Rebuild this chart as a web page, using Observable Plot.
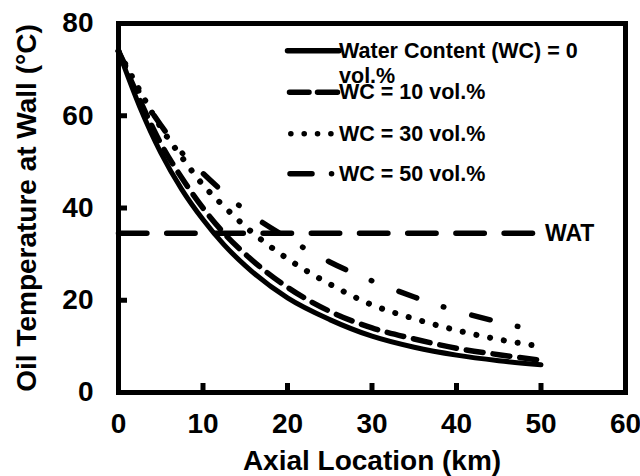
<!DOCTYPE html>
<html>
<head>
<meta charset="utf-8">
<script src="https://cdn.jsdelivr.net/npm/d3@7"></script>
<script src="https://cdn.jsdelivr.net/npm/@observablehq/plot@0.6"></script>
<style>
  html, body { margin: 0; padding: 0; background: #fff; }
  #chart { width: 640px; height: 476px; }
</style>
</head>
<body>
<div id="chart"></div>
<script>
// ---- data ----
const xKm  = [0, 2.5, 5, 7.5, 10, 12.5, 15, 20, 25, 30, 35, 40, 45, 50];
const wc0  = [74, 62, 52, 44, 37.5, 32, 27.5, 20.5, 15.8, 12.2, 9.8, 8.1, 6.9, 6.0];
const wc10 = [74, 63.5, 54, 46.5, 40, 34.5, 30, 22.8, 17.6, 14.0, 11.6, 9.6, 8.2, 7.0];
const wc30 = [74, 65.5, 57.5, 51, 45, 40.3, 36, 29, 23.5, 19, 16, 13.5, 11.5, 10];
const wc50 = [74, 65, 58, 52, 47.5, 43.3, 39.5, 33.5, 28.3, 24.2, 20.7, 17.7, 15.3, 13.2];
const watTemp = 34.5;
const watRange = [0, 50];
const watLabel = "WAT";
const legendText = ["Water Content (WC) = 0", "vol.%", "WC = 10 vol.%", "WC = 30 vol.%", "WC = 50 vol.%"];
const xTicks = [0, 10, 20, 30, 40, 50, 60];
const yTicks = [0, 20, 40, 60, 80];
const xInnerTicks = [10, 20, 30, 40, 50];
const yInnerTicks = [20, 40, 60];
const xTitle = "Axial Location (km)";
const yTitle = "Oil Temperature at Wall (°C)";

// ---- build tables ----
const mk = (vals) => xKm.map((x, i) => ({x, y: vals[i]}));
const s0 = mk(wc0), s10 = mk(wc10), s30 = mk(wc30), s50 = mk(wc50);

// legend layout (data coordinates inside the frame)
const legX1 = 20, legX2 = 26.1;
const legRowY = [74.1, 68.7, 65.1, 56.1, 47.4];
const legendRows = legendText.map((t, i) => ({t, y: legRowY[i]}));

const font = "'Liberation Sans', Arial, sans-serif";
const W = 640, H = 476, mL = 118, mR = 15, mT = 23, mB = 84;
const innerH = H - mT - mB, innerW = W - mL - mR;

const chart = Plot.plot({
  width: W, height: H,
  marginLeft: mL, marginRight: mR, marginTop: mT, marginBottom: mB,
  style: {fontFamily: font, background: "#fff", color: "#000"},
  x: {domain: [0, 60], ticks: xTicks},
  y: {domain: [0, 80], ticks: yTicks},
  marks: [
    // WAT line
    Plot.line(watRange.map(x => ({x, y: watTemp})), {x: "x", y: "y", stroke: "#000", strokeWidth: 5.5, strokeDasharray: "28.4,19.8"}),
    Plot.text([watLabel], {x: watRange[1], y: watTemp, dx: 4, text: d => d, textAnchor: "start", lineAnchor: "middle", fontSize: 23, fontWeight: "bold", fill: "#000"}),
    // series
    Plot.line(s50, {x: "x", y: "y", curve: "monotone-x", stroke: "#000", strokeWidth: 5.5, strokeLinecap: "round", strokeDasharray: "19,28,0.5,29.1", strokeDashoffset: 3}),
    Plot.line(s30, {x: "x", y: "y", curve: "monotone-x", stroke: "#000", strokeWidth: 6, strokeLinecap: "round", strokeDasharray: "0.1,13.9"}),
    Plot.line(s10, {x: "x", y: "y", curve: "monotone-x", stroke: "#000", strokeWidth: 5.5, strokeDasharray: "17,10"}),
    Plot.line(s0, {x: "x", y: "y", curve: "monotone-x", stroke: "#000", strokeWidth: 5}),
    // legend samples
    Plot.line([legX1, legX2].map(x => ({x, y: legRowY[0]})), {x: "x", y: "y", stroke: "#000", strokeWidth: 5.5, strokeLinecap: "round"}),
    Plot.line([legX1, legX2].map(x => ({x, y: legRowY[2]})), {x: "x", y: "y", stroke: "#000", strokeWidth: 5.5, strokeLinecap: "round", strokeDasharray: "19.5,8.5,20", strokeDashoffset: -2}),
    Plot.line([legX1, legX2].map(x => ({x, y: legRowY[3]})), {x: "x", y: "y", stroke: "#000", strokeWidth: 5.5, strokeLinecap: "round", strokeDasharray: "0.1,13.25", strokeDashoffset: -3.3}),
    Plot.line([legX1, legX2].map(x => ({x, y: legRowY[4]})), {x: "x", y: "y", stroke: "#000", strokeWidth: 5.5, strokeLinecap: "round", strokeDasharray: "22,19.5,0.1,40", strokeDashoffset: -2.5}),
    Plot.text(legendRows, {x: legX2, y: "y", text: "t", dx: 0, textAnchor: "start", lineAnchor: "middle", fontSize: 21.5, fontWeight: "bold", fill: "#000"}),
    // inner ticks
    Plot.tickX(xInnerTicks, {x: d => d, stroke: "#000", strokeWidth: 5, insetTop: innerH - 9}),
    Plot.tickY(yInnerTicks, {y: d => d, stroke: "#000", strokeWidth: 5, insetRight: innerW - 9}),
    // axes (labels only)
    Plot.axisX({ticks: xTicks, tickSize: 0, tickPadding: 21, fontSize: 28, fontWeight: "bold", label: null, fill: "#000"}),
    Plot.axisY({ticks: yTicks, tickSize: 0, tickPadding: 25, fontSize: 28, fontWeight: "bold", label: null, fill: "#000"}),
    // titles
    Plot.text([xTitle], {frameAnchor: "bottom", dy: 69, text: d => d, fontSize: 28, fontWeight: "bold", textAnchor: "middle", lineAnchor: "middle", fill: "#000"}),
    Plot.text([yTitle], {frameAnchor: "left", dx: -91, rotate: -90, text: d => d, fontSize: 28, fontWeight: "bold", textAnchor: "middle", lineAnchor: "middle", fill: "#000"}),
    // frame
    Plot.frame({stroke: "#000", strokeWidth: 5})
  ]
});
document.getElementById("chart").append(chart);
</script>
</body>
</html>
